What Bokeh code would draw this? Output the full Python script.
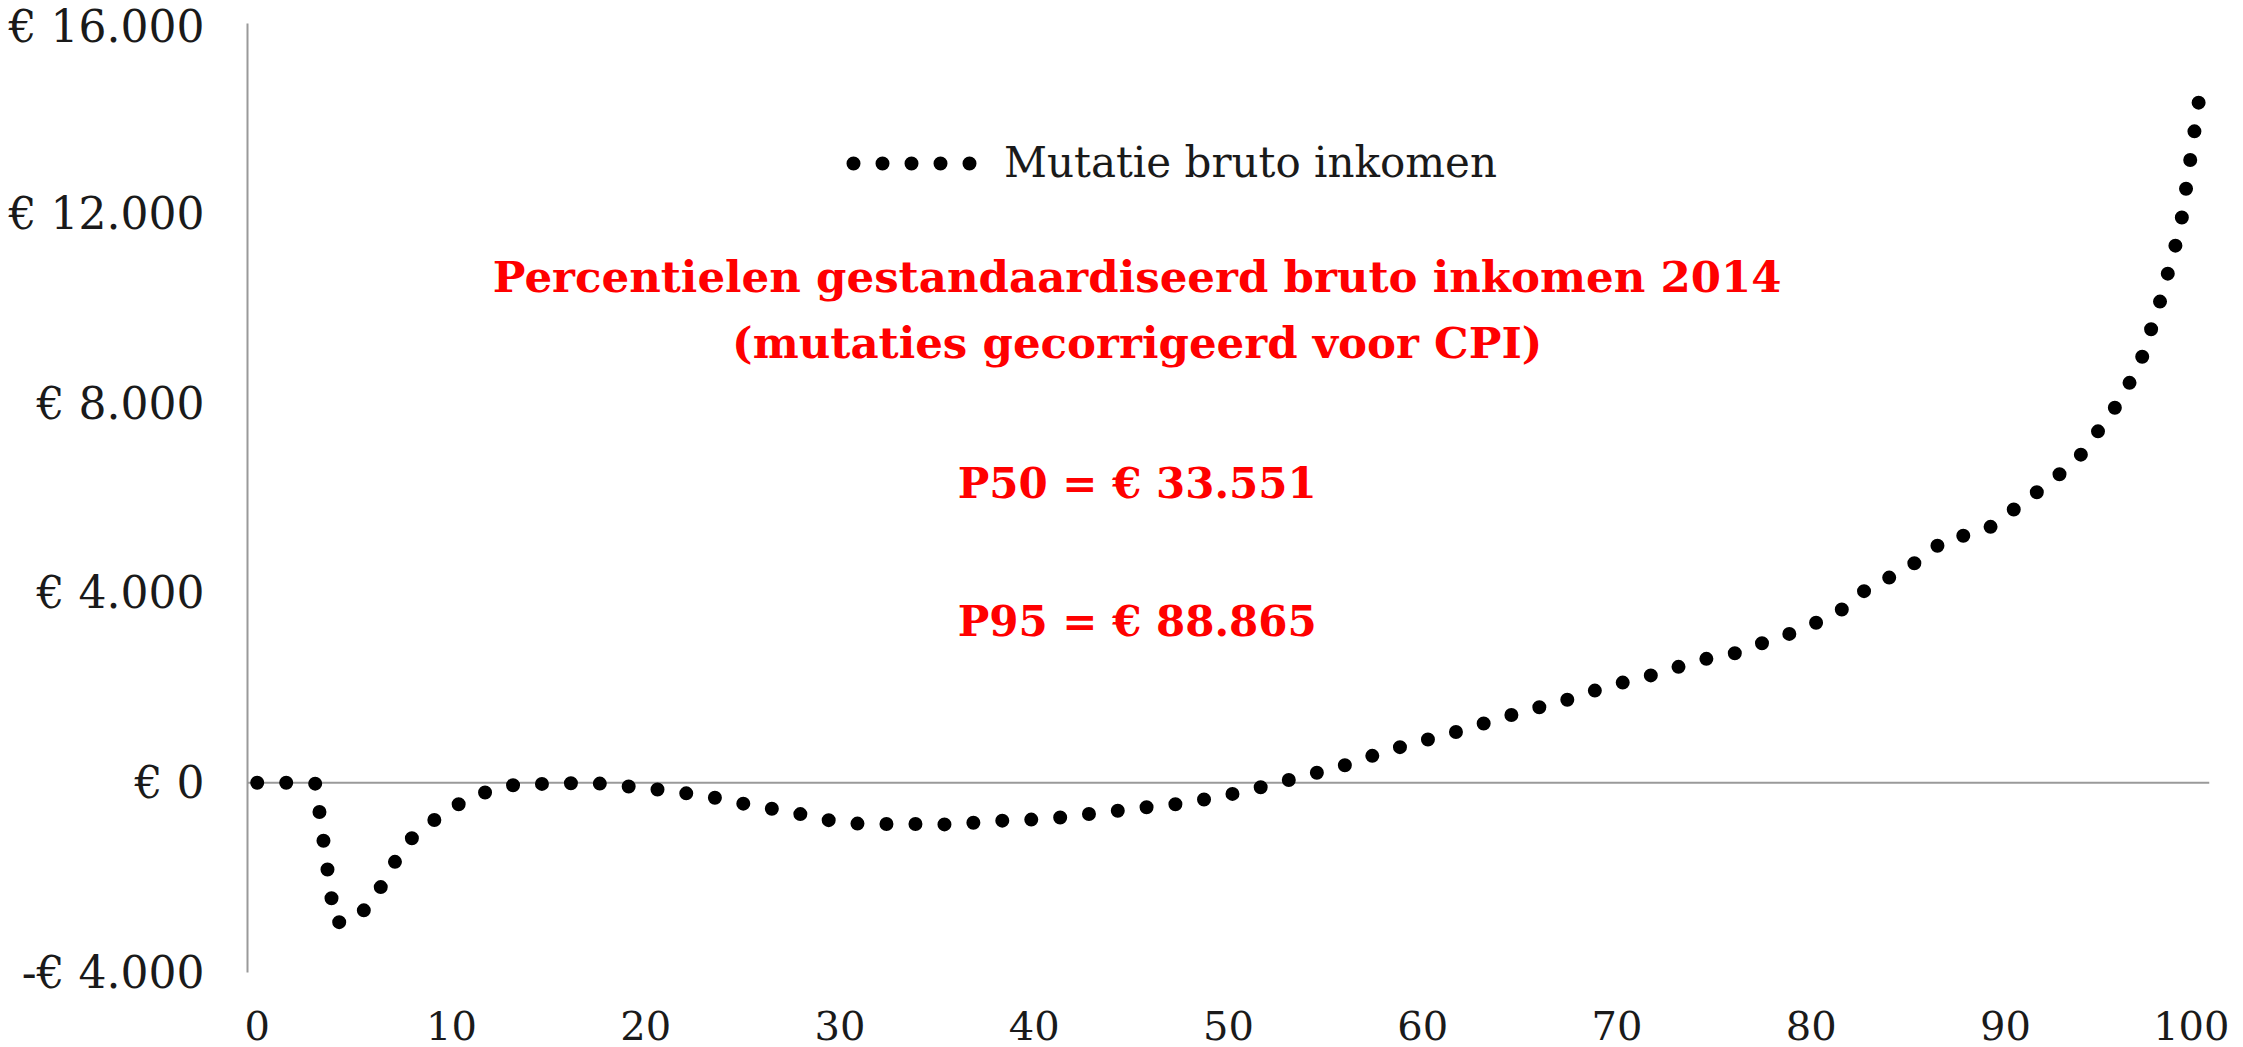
from bokeh.plotting import figure
from bokeh.models import Span, Legend, LegendItem, FixedTicker, Label
from bokeh.embed import file_html
from bokeh.resources import INLINE

# ---------------- data ----------------
percentiles = list(range(0, 101))
mutatie_bruto_inkomen = [
    0, 0, 0, -20, -2950, -2900, -2470, -1720, -1150, -820,
    -540, -310, -170, -60, -15, -30, -15, 10, -35, -75,
    -110, -165, -220, -275, -350, -440, -510, -590, -665, -760,
    -830, -865, -870, -870, -872, -878, -880, -840, -805, -790,
    -775, -750, -700, -650, -605, -555, -505, -470, -405, -335,
    -255, -160, -60, 45, 150, 257, 370, 510, 650, 770,
    880, 990, 1100, 1230, 1360, 1480, 1590, 1690, 1825, 1960,
    2080, 2180, 2290, 2420, 2550, 2650, 2720, 2850, 3040, 3150,
    3320, 3520, 3750, 4150, 4320, 4540, 4820, 5170, 5210, 5330,
    5600, 5970, 6220, 6580, 6960, 7545, 8115, 8930, 10200, 11700,
    14500,
]
x_tick_values = [0, 10, 20, 30, 40, 50, 60, 70, 80, 90, 100]
y_tick_values = [-4000, 0, 4000, 8000, 12000, 16000]
y_tick_labels = ["-€ 4.000", "€ 0", "€ 4.000", "€ 8.000", "€ 12.000", "€ 16.000"]
series_name = "Mutatie bruto inkomen"
title_lines = ["Percentielen gestandaardiseerd bruto inkomen 2014",
               "(mutaties gecorrigeerd voor CPI)"]
stat_lines = ["P50 = € 33.551", "P95 = € 88.865"]

# ---------------- figure ----------------
AXIS_GRAY = "#9a9a9a"
TEXT = "#1a1a1a"
SERIF = "DejaVu Serif"

p = figure(
    frame_width=1962, frame_height=949,
    x_range=(-0.5, 100.5), y_range=(-4000, 16000),
    output_backend="svg", toolbar_location=None,
    min_border_left=247, min_border_top=23, min_border_right=20, min_border_bottom=75,
    background_fill_color="white", border_fill_color="white",
)
p.outline_line_color = None
p.xgrid.visible = False
p.ygrid.visible = False

# y axis
p.yaxis.ticker = FixedTicker(ticks=y_tick_values)
p.yaxis.major_label_overrides = {v: s for v, s in zip(y_tick_values, y_tick_labels)}
p.yaxis.axis_line_color = AXIS_GRAY
p.yaxis.axis_line_width = 2
p.yaxis.major_tick_line_color = None
p.yaxis.minor_tick_line_color = None
p.yaxis.major_tick_out = 0
p.yaxis.major_tick_in = 0
p.yaxis.major_label_standoff = 43
p.yaxis.major_label_text_font = SERIF
p.yaxis.major_label_text_font_size = "44px"
p.yaxis.major_label_text_color = TEXT

# x axis
p.xaxis.ticker = FixedTicker(ticks=x_tick_values)
p.xaxis.axis_line_color = None
p.xaxis.major_tick_line_color = None
p.xaxis.minor_tick_line_color = None
p.xaxis.major_tick_out = 0
p.xaxis.major_tick_in = 0
p.xaxis.major_label_standoff = 38
p.xaxis.major_label_text_font = SERIF
p.xaxis.major_label_text_font_size = "40px"
p.xaxis.major_label_text_color = TEXT

# zero line
zero = Span(location=0, dimension="width", line_color=AXIS_GRAY, line_width=2, level="underlay")
p.add_layout(zero)

# dotted series
line_style = dict(line_color="black", line_width=14, line_dash="0 29",
                  line_cap="round", line_join="round")
r = p.line(percentiles, mutatie_bruto_inkomen, **line_style)
# legend key: same style, dash shifted so the first dot is not clipped (hidden in plot)
r_key = p.line(percentiles, mutatie_bruto_inkomen, line_dash_offset=15, visible=False, **line_style)

legend = Legend(
    items=[LegendItem(label=series_name, renderers=[r_key])],
    location=(592, 785),
    glyph_width=138, glyph_height=40, label_height=40, label_standoff=27,
    padding=0, margin=0, spacing=0,
    border_line_color=None, background_fill_alpha=0,
    inactive_fill_alpha=0,
    label_text_font=SERIF, label_text_font_size="42px", label_text_color=TEXT,
)
p.add_layout(legend)

# red annotations
red_baselines = [10666, 9275]
for txt, yb in zip(title_lines, red_baselines):
    p.add_layout(Label(x=45.3, y=yb, text=txt, text_align="center", text_baseline="alphabetic",
                       text_font=SERIF, text_font_style="bold", text_font_size="43.5px",
                       text_color="#ff0000"))
stat_baselines = [6303, 3394]
for txt, yb in zip(stat_lines, stat_baselines):
    p.add_layout(Label(x=45.3, y=yb, text=txt, text_align="center", text_baseline="alphabetic",
                       text_font=SERIF, text_font_style="bold", text_font_size="42px",
                       text_color="#ff0000"))

open("out.html", "w").write(file_html(p, INLINE))
